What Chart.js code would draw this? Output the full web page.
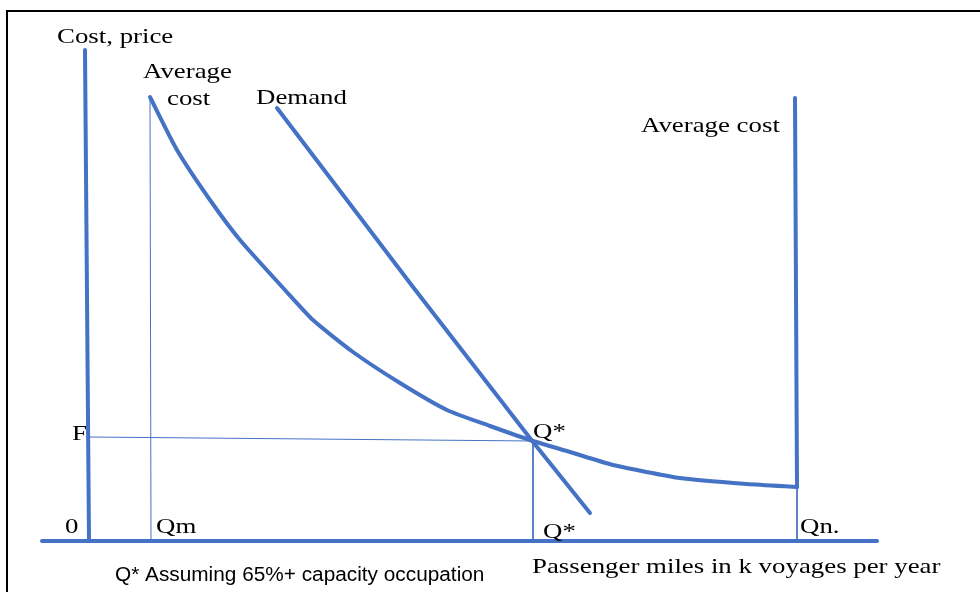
<!DOCTYPE html>
<html>
<head>
<meta charset="utf-8">
<script src="https://cdn.jsdelivr.net/npm/chart.js@4"></script>
<style>
  html, body { margin: 0; padding: 0; background: #fff; }
  #wrap { position: relative; width: 980px; height: 592px; }
  #frame { position: absolute; left: 6px; top: 10px; right: -4px; bottom: -4px;
           border-left: 2px solid #000; border-top: 2px solid #000; pointer-events: none; }
</style>
</head>
<body>
<div id="wrap">
  <canvas id="diagram" width="980" height="592"></canvas>
  <div id="frame"></div>
</div>
<script>
// diagram units: x = quantity, y = cost/price, origin where the two axes meet
var priceAxis = [{ x: -4, y: 491 }, { x: 0, y: 0 }];
var quantityAxis = [{ x: -47, y: 0 }, { x: 788, y: 0 }];
var averageCost = [
  { x: 61, y: 444 }, { x: 88, y: 391 }, { x: 121, y: 341 }, { x: 151, y: 301 },
  { x: 196, y: 251 }, { x: 224, y: 221 }, { x: 264, y: 189 }, { x: 311, y: 158 },
  { x: 358, y: 131 }, { x: 401, y: 115 }, { x: 444, y: 100 }, { x: 481, y: 89 },
  { x: 524, y: 76 }, { x: 591, y: 63 }, { x: 658, y: 57 }, { x: 708, y: 54 },
];
var capacityLimit = [{ x: 708, y: 54 }, { x: 706, y: 443 }];
var demand = [{ x: 188, y: 433 }, { x: 324, y: 254 }, { x: 444, y: 99 }, { x: 501, y: 28 }];
var qmDrop = [{ x: 61, y: 444 }, { x: 62, y: 0 }];
var fLine = [{ x: 0, y: 104 }, { x: 444, y: 100 }];
var qStarDrop = [{ x: 444, y: 100 }, { x: 444, y: 0 }];
var qnDrop = [{ x: 708, y: 54 }, { x: 708, y: 0 }];

var serifLabels = [
  { text: "Cost, price", x: -32, y: 498 },
  { text: "Average", x: 54, y: 463 },
  { text: "cost", x: 78, y: 436 },
  { text: "Demand", x: 167, y: 437 },
  { text: "Average cost", x: 552, y: 409 },
  { text: "F", x: -17, y: 101 },
  { text: "0", x: -24, y: 8 },
  { text: "Qm", x: 67, y: 8 },
  { text: "Q*", x: 444, y: 103 },
  { text: "Q*", x: 454, y: 3 },
  { text: "Qn.", x: 711, y: 8 },
  { text: "Passenger miles in k voyages per year", x: 443, y: -32 },
];
var sansLabels = [
  { text: "Q* Assuming 65%+ capacity occupation", x: 26, y: -40 },
];

var blue = "#4472C4";

function thick(data, tension) {
  return { data: data, borderColor: blue, borderWidth: 4, showLine: true, pointRadius: 0,
           borderCapStyle: "round", borderJoinStyle: "round", fill: false, tension: tension || 0 };
}
function thin(data) {
  return { data: data, borderColor: blue, borderWidth: 1, showLine: true, pointRadius: 0,
           fill: false, tension: 0 };
}

var labelPlugin = {
  id: "labels",
  afterDatasetsDraw: function (chart) {
    var ctx = chart.ctx;
    var sx = chart.scales.x, sy = chart.scales.y;
    function put(list, font, stretch) {
      ctx.save();
      ctx.fillStyle = "#000";
      ctx.font = font;
      ctx.textBaseline = "alphabetic";
      ctx.textAlign = "left";
      list.forEach(function (l) {
        var px = sx.getPixelForValue(l.x), py = sy.getPixelForValue(l.y);
        ctx.save();
        ctx.translate(px, py);
        ctx.scale(stretch, 1);
        ctx.fillText(l.text, 0, 0);
        ctx.restore();
      });
      ctx.restore();
    }
    put(serifLabels, "22px 'Liberation Serif'", 1.22);
    put(sansLabels, "20px 'Liberation Sans'", 1.04);
  },
};

new Chart(document.getElementById("diagram").getContext("2d"), {
  type: "scatter",
  data: {
    datasets: [
      thin(qmDrop), thin(fLine), thin(qStarDrop), thin(qnDrop),
      thick(priceAxis), thick(quantityAxis), thick(averageCost, 0.2),
      thick(capacityLimit), thick(demand),
    ],
  },
  options: {
    responsive: false,
    animation: false,
    layout: { padding: 0 },
    plugins: { legend: { display: false }, tooltip: { enabled: false } },
    scales: {
      x: { type: "linear", min: -89, max: 891, display: false },
      y: { type: "linear", min: -51, max: 541, display: false },
    },
  },
  plugins: [labelPlugin],
});
</script>
</body>
</html>
